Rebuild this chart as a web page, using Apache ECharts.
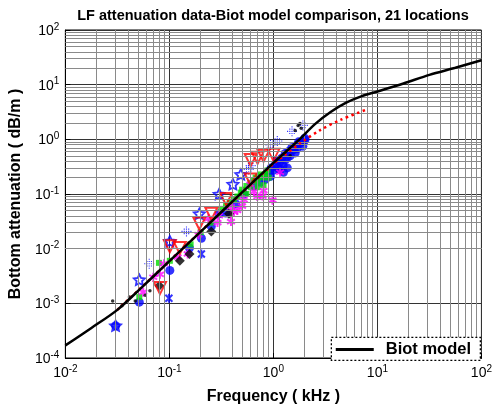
<!DOCTYPE html>
<html><head><meta charset="utf-8">
<script src="https://cdn.jsdelivr.net/npm/echarts@6/dist/echarts.min.js"></script>
<style>html,body{margin:0;padding:0;background:#fff}#c{width:495px;height:410px}</style>
</head><body><div id="c"></div>
<script>
// Biot model curve (kHz, dB/m)
const biotFreq  = [0.01, 0.0178, 0.0316, 0.0562, 0.1, 0.178, 0.316, 0.562, 1, 1.26, 1.78, 2.51, 3.55, 5.01, 7.08, 10, 17.8, 31.6, 56.2, 100];
const biotAtten = [1.70e-4, 3.55e-4, 7.6e-4, 2.09e-3, 5.9e-3, 0.0166, 0.0468, 0.132, 0.372, 0.55, 1.0, 1.9, 3.16, 4.68, 6.17, 7.5, 10.5, 15.1, 20.4, 28];
// red dotted fit
const fitFreq  = [0.0316, 0.1, 0.316, 1, 1.26, 1.78, 2.79, 4.47, 7.76];
const fitAtten = [7.6e-4, 5.9e-3, 0.047, 0.355, 0.50, 0.83, 1.46, 2.29, 3.47];
// measured data, [frequency kHz, attenuation dB/m]
const blueCircle = [[0.0304,0.00039],[0.0514,0.00105],[0.101,0.0040],[0.156,0.0103],[0.203,0.0155],[0.253,0.0255],[0.301,0.0436],[0.349,0.045],[0.436,0.0659],[0.52,0.10],[0.65,0.14],[0.753,0.164],[0.839,0.185],[0.85,0.22],[0.9,0.25],[0.937,0.21],[0.95,0.3],[1.0,0.27],[1.05,0.35],[1.1,0.3],[1.15,0.38],[1.16,0.28],[1.2,0.45],[1.24,0.33],[1.25,0.25],[1.09,0.41],[1.3,0.42],[1.3,0.55],[1.36,0.30],[1.36,0.46],[1.4,0.6],[1.45,0.50],[1.5,0.7],[1.55,0.64],[1.6,0.72],[1.62,0.565],[1.69,0.79],[1.7,0.68],[1.75,0.9],[1.80,0.86],[1.9,0.9],[1.92,0.75],[2.0,1.05],[2.01,0.97]];
const blueHexagram = [[0.0304,0.00039],[0.0514,0.0027],[0.101,0.0137],[0.194,0.0436],[0.301,0.0995],[0.408,0.151],[0.486,0.228]];
const blueDotCross = [[0.064,0.0053],[0.146,0.0207],[0.579,0.28],[0.605,0.33],[0.937,0.79],[1.09,0.93],[1.51,1.40],[1.92,1.80]];
const blueX = [[0.0989,0.00124],[0.203,0.008]];
const redTriangle = [[0.0812,0.0019],[0.101,0.0111],[0.126,0.0103],[0.194,0.0288],[0.253,0.0436],[0.351,0.081],[0.605,0.185],[0.605,0.42],[0.705,0.46],[0.804,0.50],[1.0,0.52]];
const magentaStar = [[0.056,0.0016],[0.07,0.003],[0.0812,0.0034],[0.0887,0.0053],[0.12,0.007],[0.15,0.008],[0.19,0.018],[0.237,0.0354],[0.29,0.03],[0.3,0.04],[0.391,0.0313],[0.391,0.0582],[0.418,0.0473],[0.45,0.05],[0.5,0.06],[0.52,0.0785],[0.6,0.15],[0.65,0.11],[0.7,0.09],[0.787,0.0915],[0.804,0.115],[0.98,0.077],[1.16,0.25]];
const greenSquare = [[0.0514,0.0013],[0.0794,0.0055],[0.101,0.006],[0.16,0.012],[0.2,0.02],[0.25,0.03],[0.315,0.0535],[0.35,0.06],[0.38,0.07],[0.418,0.081],[0.45,0.09],[0.486,0.106],[0.5,0.12],[0.55,0.1],[0.55,0.14],[0.6,0.16],[0.605,0.133],[0.646,0.178],[0.675,0.20],[0.7,0.17],[0.705,0.133],[0.72,0.21],[0.753,0.228],[0.8,0.2],[0.804,0.145],[0.85,0.24],[0.877,0.27],[0.9,0.2]];
const blackDiamond = [[0.08,0.0021],[0.126,0.006],[0.156,0.008],[0.253,0.0207],[0.374,0.0436]];
const blackDot = [[0.0285,0.0011],[0.035,0.0009],[0.0413,0.0013],[0.047,0.0011],[0.0586,0.0014],[0.065,0.0017],[1.45,0.5],[1.62,1.45],[1.73,1.8],[1.80,1.95],[1.85,1.6]];
// axis ranges (decades)
const xDecades = [-2, -1, 0, 1];
const yDecades = [-4, -3, -2, -1, 0, 1];

const minorX = [], minorY = [];
xDecades.forEach(d => { for (let m = 2; m <= 9; m++) minorX.push({xAxis: m * Math.pow(10, d)}); });
yDecades.forEach(d => { for (let m = 2; m <= 9; m++) minorY.push({yAxis: m * Math.pow(10, d)}); });

const FONT = 'Liberation Sans, Arial, sans-serif';
const supLabel = v => { const e = Math.round(Math.log10(v)); return '{b|10}{s|' + e + '}'; };
const richTick = {
  b: {fontSize: 14, fontFamily: FONT, color: '#000', lineHeight: 16, verticalAlign: 'bottom'},
  s: {fontSize: 10, fontFamily: FONT, color: '#000', lineHeight: 16, verticalAlign: 'top', padding: [0, 0, 6, 0]}
};
const pairs = (fx, fy) => fx.map((f, i) => [f, fy[i]]);

const starPath = 'path://M0,-10 L2.9,-4 L9.5,-3.1 L4.7,1.5 L5.9,8.1 L0,5 L-5.9,8.1 L-4.7,1.5 L-9.5,-3.1 L-2.9,-4 Z';
const asteriskPath = 'path://M0,-10 L0,10 M-8.7,-5 L8.7,5 M-8.7,5 L8.7,-5';
const dotCrossPath = 'path://M-1,-9h2v2h-2z M-1,-5h2v2h-2z M-1,3h2v2h-2z M-1,7h2v2h-2z M-9,-1h2v2h-2z M-5,-1h2v2h-2z M3,-1h2v2h-2z M7,-1h2v2h-2z M-1,-1h2v2h-2z M-5,-5h2v2h-2z M3,-5h2v2h-2z M-5,3h2v2h-2z M3,3h2v2h-2z';
const xPath = 'path://M-7,-7 L7,7 M-7,7 L7,-7 M0,-9 L0,9';
const legendBar = 'path://M0,0h38v3h-38z';

const scatter = (name, data, symbol, size, style, z, rot) => ({
  name, type: 'scatter', data, symbol, symbolSize: size, symbolKeepAspect: true, symbolRotate: rot || 0,
  itemStyle: style, z: z || 3, silent: true, animation: false
});

const chart = echarts.init(document.getElementById('c'), null, {renderer: 'canvas'});
chart.setOption({
  backgroundColor: '#fff',
  animation: false,
  title: {
    text: 'LF attenuation data-Biot model comparison, 21 locations',
    left: 268, top: 3, textAlign: 'center',
    textStyle: {fontFamily: FONT, fontSize: 14.5, fontWeight: 'bold', color: '#000'}
  },
  grid: {left: 62, right: 11, top: 30, bottom: 46, show: true, borderColor: '#000', borderWidth: 1, backgroundColor: 'transparent'},
  graphic: [{
    type: 'rect', right: 14, bottom: 49, z: 100, silent: true,
    shape: {width: 149, height: 23},
    style: {fill: '#fff', stroke: '#000', lineWidth: 1.3, lineDash: [2, 2]}
  }],
  legend: {
    data: ['Biot model'], right: 15, bottom: 50, z: 200, zlevel: 0,
    padding: [2, 9, 2, 8], itemWidth: 38, itemHeight: 3, icon: legendBar,
    itemStyle: {color: '#000', borderWidth: 0},
    textStyle: {fontFamily: FONT, fontSize: 16.5, fontWeight: 'bold', color: '#000', padding: [0, 0, 0, 7]}
  },
  xAxis: {
    type: 'log', logBase: 10, min: 0.01, max: 100, splitNumber: 4,
    name: 'Frequency ( kHz )', nameLocation: 'middle', nameGap: 31,
    nameTextStyle: {fontFamily: FONT, fontSize: 16, fontWeight: 'bold', color: '#000'},
    axisLine: {show: true, lineStyle: {color: '#000', width: 1}},
    axisTick: {show: true, inside: true, length: 5, lineStyle: {color: '#000'}},
    axisLabel: {formatter: supLabel, rich: richTick, margin: 6},
    splitLine: {show: true, lineStyle: {color: '#333', width: 1}},
    minorTick: {show: false}
  },
  yAxis: {
    type: 'log', logBase: 10, min: 1e-4, max: 100, splitNumber: 6,
    name: 'Bottom attenuation ( dB/m )', nameLocation: 'middle', nameGap: 36,
    nameTextStyle: {fontFamily: FONT, fontSize: 16, fontWeight: 'bold', color: '#000'},
    axisLine: {show: true, lineStyle: {color: '#000', width: 1}},
    axisTick: {show: true, inside: true, length: 5, lineStyle: {color: '#000'}},
    axisLabel: {formatter: supLabel, rich: richTick, margin: 6},
    splitLine: {show: true, lineStyle: {color: '#333', width: 1}}
  },
  series: [
    {
      name: 'grid', type: 'line', data: [[0.01, 1e-4]], showSymbol: false, symbol: 'none', z: 1,
      lineStyle: {opacity: 0}, silent: true, animation: false,
      markLine: {
        silent: true, symbol: ['none', 'none'], animation: false, label: {show: false},
        lineStyle: {color: '#8a8a8a', width: 1, type: 'solid'},
        data: minorX.concat(minorY)
      }
    },
    scatter('blueCircle', blueCircle, 'circle', 9, {color: '#0000ff'}),
    scatter('greenSquare', greenSquare, 'rect', 6, {color: '#00dd00'}),
    scatter('magentaStar', magentaStar, asteriskPath, 9, {color: 'none', borderColor: '#ff00ff', borderWidth: 2}),
    scatter('blackDiamond', blackDiamond, 'diamond', 10, {color: '#000'}),
    scatter('blueHexagram', blueHexagram, starPath, 11, {color: 'none', borderColor: '#0000ff', borderWidth: 1.8}),
    scatter('blueDotCross', blueDotCross, dotCrossPath, 10, {color: '#0000ff'}),
    scatter('blueX', blueX, xPath, 9, {color: 'none', borderColor: '#0000ff', borderWidth: 2}),
    scatter('redTriangle', redTriangle, 'triangle', 12, {color: 'none', borderColor: '#ff0000', borderWidth: 2}, 4, 180),
    scatter('blackDot', blackDot, 'circle', 3.5, {color: '#000'}, 4),
    {
      name: 'fit', type: 'line', data: pairs(fitFreq, fitAtten), showSymbol: false, symbol: 'none', smooth: 0.3, z: 5,
      lineStyle: {color: '#ff0000', width: 2.5, type: [2.5, 3.5]}, silent: true, animation: false
    },
    {
      name: 'Biot model', type: 'line', data: pairs(biotFreq, biotAtten), showSymbol: false, symbol: 'none', smooth: 0.3, z: 6,
      lineStyle: {color: '#000', width: 2.5, type: 'solid'}, itemStyle: {color: '#000'}, silent: true, animation: false
    }
  ]
});
</script></body></html>
